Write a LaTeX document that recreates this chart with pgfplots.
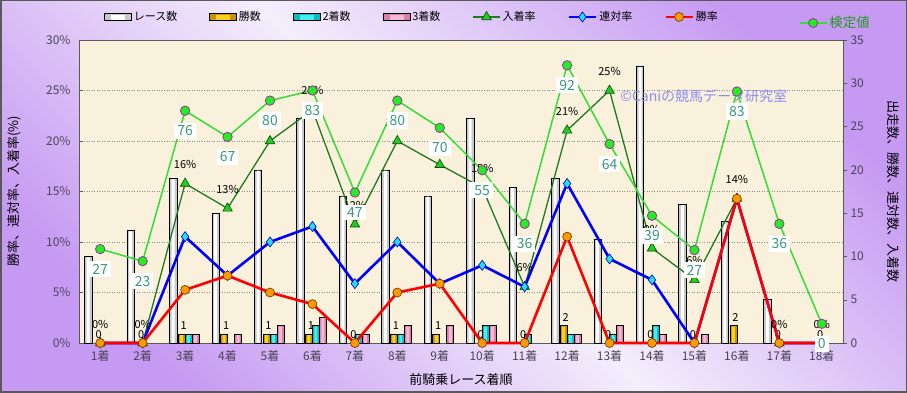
\documentclass[border=0pt]{standalone}
\usepackage{pgfplots}
\pgfplotsset{compat=1.18}
\usepackage{fontspec}
\setmainfont{Noto Sans CJK JP}
\newcommand\fs[1]{\fontsize{#1}{#1}\selectfont}
\definecolor{bgdark}{HTML}{C69AF2}
\definecolor{bglight}{HTML}{F4EEFC}
\definecolor{plotbg}{HTML}{FAF1DC}
\definecolor{tickc}{HTML}{4A4458}
\definecolor{barW}{HTML}{C8C8C8}
\definecolor{goldO}{HTML}{C89400}
\definecolor{goldI}{HTML}{FFD01A}
\definecolor{cyanO}{HTML}{10B8C0}
\definecolor{cyanI}{HTML}{40F0F0}
\definecolor{pinkO}{HTML}{D880A8}
\definecolor{pinkI}{HTML}{F8B8D8}
\definecolor{dgreen}{HTML}{1E7A1E}
\definecolor{tgreen}{HTML}{22CC22}
\definecolor{kline}{HTML}{33DD33}
\definecolor{kfill}{HTML}{22EE22}
\definecolor{kedge}{HTML}{993399}
\definecolor{ktext}{HTML}{3A9A7E}
\definecolor{dblue}{HTML}{0000FF}
\definecolor{dfill}{HTML}{22DDFF}
\definecolor{orfill}{HTML}{FF9900}
\definecolor{wmark}{HTML}{8C8CF0}
\definecolor{legk}{HTML}{229922}
\pgfplotsset{
  /pgf/number format/assume math mode=true,
  lineleg/.style={legend image code/.code={\draw[mark repeat=2,mark phase=2,##1] plot coordinates {(0pt,0pt) (13.5pt,0pt) (27pt,0pt)};}},
}
\begin{document}
\begin{tikzpicture}[x=1pt,y=1pt]
\useasboundingbox (0,0) rectangle (907,393);
\shade[top color=bgdark, bottom color=bgdark, middle color=bglight, shading angle=-45] (0,0) rectangle (907,393);
\draw[line width=1.5pt, black!65] (0.75,0.75) rectangle (906.25,392.25);

% ---------- axis 1 : counts (right axis) ----------
\begin{axis}[
  at={(79pt,50pt)}, anchor=south west, scale only axis,
  width=764pt, height=303pt,
  xmin=0.5, xmax=18.5, ymin=0, ymax=35,
  axis background/.style={fill=plotbg},
  axis line style={draw=black!65, line width=0.8pt},
  xtick=\empty, minor xtick={0.5,1.5,...,18.5},
  ytick={0,5,...,35},
  minor ytick={5.8333,11.6667,17.5,23.3333,29.1667},
  grid=minor,
  minor grid style={black!45, dash pattern=on 1pt off 1.5pt, line width=0.5pt},
  minor tick length=0pt,
  ytick pos=right, yticklabel pos=right, tick align=outside,
  major tick length=4pt, tick style={black!65},
  yticklabel style={font=\fs{12}, text=tickc},
  clip=false,
  legend style={at={(axis description cs:0.99,1.056)}, anchor=center, draw=none, fill=none, font=\fs{13.5}, text=legk},
  lineleg,
]
% race counts (white bars)
\addplot[ybar, bar width=7.5pt, bar shift=-12pt, draw=black, line width=0.6pt, fill=barW, forget plot]
 coordinates {(1,10) (2,13) (3,19) (4,15) (5,20) (6,26) (7,17) (8,20) (9,17) (10,26) (11,18) (12,19) (13,12) (14,32) (15,16) (16,14) (17,5) (18,0)};
\addplot[ybar, bar width=3pt, bar shift=-12pt, draw=none, fill=white, forget plot]
 coordinates {(1,9.9) (2,12.9) (3,18.9) (4,14.9) (5,19.9) (6,25.9) (7,16.9) (8,19.9) (9,16.9) (10,25.9) (11,17.9) (12,18.9) (13,11.9) (14,31.9) (15,15.9) (16,13.9) (17,4.9) (18,0)};
% wins
\addplot[ybar, bar width=7pt, bar shift=-3.5pt, draw=black, line width=0.6pt, fill=goldO, forget plot]
 coordinates {(3,1) (4,1) (5,1) (6,1) (8,1) (9,1) (12,2) (16,2)};
\addplot[ybar, bar width=3pt, bar shift=-3.5pt, draw=none, fill=goldI, forget plot]
 coordinates {(3,0.9) (4,0.9) (5,0.9) (6,0.9) (8,0.9) (9,0.9) (12,1.9) (16,1.9)};
% 2nd
\addplot[ybar, bar width=7pt, bar shift=3.5pt, draw=black, line width=0.6pt, fill=cyanO, forget plot]
 coordinates {(3,1) (5,1) (6,2) (7,1) (8,1) (10,2) (11,1) (12,1) (13,1) (14,2)};
\addplot[ybar, bar width=3pt, bar shift=3.5pt, draw=none, fill=cyanI, forget plot]
 coordinates {(3,0.9) (5,0.9) (6,1.9) (7,0.9) (8,0.9) (10,1.9) (11,0.9) (12,0.9) (13,0.9) (14,1.9)};
% 3rd
\addplot[ybar, bar width=7pt, bar shift=10.5pt, draw=black, line width=0.6pt, fill=pinkO, forget plot]
 coordinates {(3,1) (4,1) (5,2) (6,3) (7,1) (8,2) (9,2) (10,2) (12,1) (13,2) (14,1) (15,1)};
\addplot[ybar, bar width=3pt, bar shift=10.5pt, draw=none, fill=pinkI, forget plot]
 coordinates {(3,0.9) (4,0.9) (5,1.9) (6,2.9) (7,0.9) (8,1.9) (9,1.9) (10,1.9) (12,0.9) (13,1.9) (14,0.9) (15,0.9)};
% win labels
\addplot[draw=none, mark=none, forget plot, nodes near coords,
  every node near coord/.append style={font=\fs{11}, text=black, anchor=south, xshift=-1.5pt, yshift=1pt}]
 coordinates {(1,0) (2,0) (3,1) (4,1) (5,1) (6,1) (7,0) (8,1) (9,1) (10,0) (11,0) (12,2) (13,0) (14,0) (15,0) (16,2) (17,0) (18,0)};
\addlegendimage{color=kline, line width=1.5pt, mark=*, mark size=4.5pt, mark options={fill=kfill, draw=kedge, line width=0.8pt}}
\addlegendentry{検定値}
\end{axis}

% ---------- axis 2 : rates (left axis) ----------
\begin{axis}[
  at={(79pt,50pt)}, anchor=south west, scale only axis,
  width=764pt, height=303pt,
  xmin=0.5, xmax=18.5, ymin=0, ymax=30,
  axis line style={draw=none},
  xtick={1,...,18},
  xticklabels={1着,2着,3着,4着,5着,6着,7着,8着,9着,10着,11着,12着,13着,14着,15着,16着,17着,18着},
  x tick style={draw=none},
  xticklabel style={font=\fs{12}, text=tickc, yshift=-4pt},
  ytick={0,5,...,30},
  yticklabel={\pgfmathprintnumber{\tick}\%},
  yticklabel style={font=\fs{12}, text=tickc, xshift=-5pt},
  ytick pos=left, tick align=inside, major tick length=4pt, y tick style={black!65},
  xlabel={前騎乗レース着順},
  xlabel style={font=\fs{13}, text=black, at={(axis description cs:0.5,-0.122)}, anchor=center},
  ylabel={勝率、連対率、入着率(\%)},
  ylabel style={font=\fs{13}, text=black, at={(axis description cs:-0.085,0.5)}, anchor=center},
  clip=false,
  legend columns=7,
  legend style={at={(axis description cs:0.436,1.076)}, anchor=center, draw=none, fill=none, font=\fs{11},
    /tikz/every even column/.append style={column sep=30pt}},
  lineleg,
]
\addlegendimage{legend image code/.code={\draw[black, fill=barW, line width=0.6pt] (0pt,-3.5pt) rectangle (27pt,3.5pt); \fill[white] (7pt,-2pt) rectangle (20pt,2pt);}}
\addlegendentry{レース数}
\addlegendimage{legend image code/.code={\draw[black, fill=goldO, line width=0.6pt] (0pt,-3.5pt) rectangle (27pt,3.5pt); \fill[goldI] (7pt,-2pt) rectangle (20pt,2pt);}}
\addlegendentry{勝数}
\addlegendimage{legend image code/.code={\draw[black, fill=cyanO, line width=0.6pt] (0pt,-3.5pt) rectangle (27pt,3.5pt); \fill[cyanI] (7pt,-2pt) rectangle (20pt,2pt);}}
\addlegendentry{2着数}
\addlegendimage{legend image code/.code={\draw[black, fill=pinkO, line width=0.6pt] (0pt,-3.5pt) rectangle (27pt,3.5pt); \fill[pinkI] (7pt,-2pt) rectangle (20pt,2pt);}}
\addlegendentry{3着数}
% 入着率
\addplot[color=dgreen, line width=1.3pt, mark=triangle*, mark size=5.5pt,
  mark options={fill=tgreen, draw=black!70!green, line width=0.6pt},
  nodes near coords={\pgfmathprintnumber[fixed,precision=0]{\pgfplotspointmeta}\%},
  every node near coord/.append style={font=\fs{11}, text=black, anchor=center, yshift=19pt}]
 coordinates {(1,0) (2,0) (3,15.79) (4,13.33) (5,20) (6,23.08) (7,11.76) (8,20) (9,17.65) (10,15.38) (11,5.56) (12,21.05) (13,25) (14,9.38) (15,6.25) (16,14.29) (17,0) (18,0)};
\addlegendentry{入着率}
% 連対率
\addplot[color=dblue, line width=2.6pt, mark=diamond*, mark size=5pt,
  mark options={fill=dfill, draw=blue!60!black, line width=0.6pt}]
 coordinates {(1,0) (2,0) (3,10.53) (4,6.67) (5,10) (6,11.54) (7,5.88) (8,10) (9,5.88) (10,7.69) (11,5.56) (12,15.79) (13,8.33) (14,6.25) (15,0) (16,14.29) (17,0) (18,0)};
\addlegendentry{連対率}
% 勝率
\addplot[color=red, line width=2.6pt, mark=*, mark size=4.5pt,
  mark options={fill=orfill, draw=black!60!orange, line width=0.6pt}]
 coordinates {(1,0) (2,0) (3,5.26) (4,6.67) (5,5) (6,3.85) (7,0) (8,5) (9,5.88) (10,0) (11,0) (12,10.53) (13,0) (14,0) (15,0) (16,14.29) (17,0) (18,0)};
\addlegendentry{勝率}
% watermark
\node[font=\fs{14}, text=wmark, anchor=center] at (axis cs:15.22,24.45) {©Caniの競馬データ研究室};
% 検定値
\addplot[color=kline, line width=1.5pt, mark=*, mark size=4.7pt,
  mark options={fill=kfill, draw=kedge, line width=0.8pt}, forget plot,
  point meta=explicit symbolic, nodes near coords,
  every node near coord/.append style={font=\fs{14}, text=ktext, fill=white, inner xsep=3pt, inner ysep=3pt, anchor=center, yshift=-20pt}]
 coordinates {(1,9.3)[27] (2,8.1)[23] (3,23.0)[76] (4,20.4)[67] (5,24.0)[80] (6,25.0)[83] (7,14.9)[47] (8,24.0)[80] (9,21.3)[70] (10,17.1)[55] (11,11.8)[36] (12,27.5)[92] (13,19.7)[64] (14,12.6)[39] (15,9.2)[27] (16,24.9)[83] (17,11.8)[36] (18,1.9)[0]};
\end{axis}
\node[rotate=-90, font=\fs{13}, text=black] at (893,201.5) {出走数、勝数、連対数、入着数};
\end{tikzpicture}
\end{document}
